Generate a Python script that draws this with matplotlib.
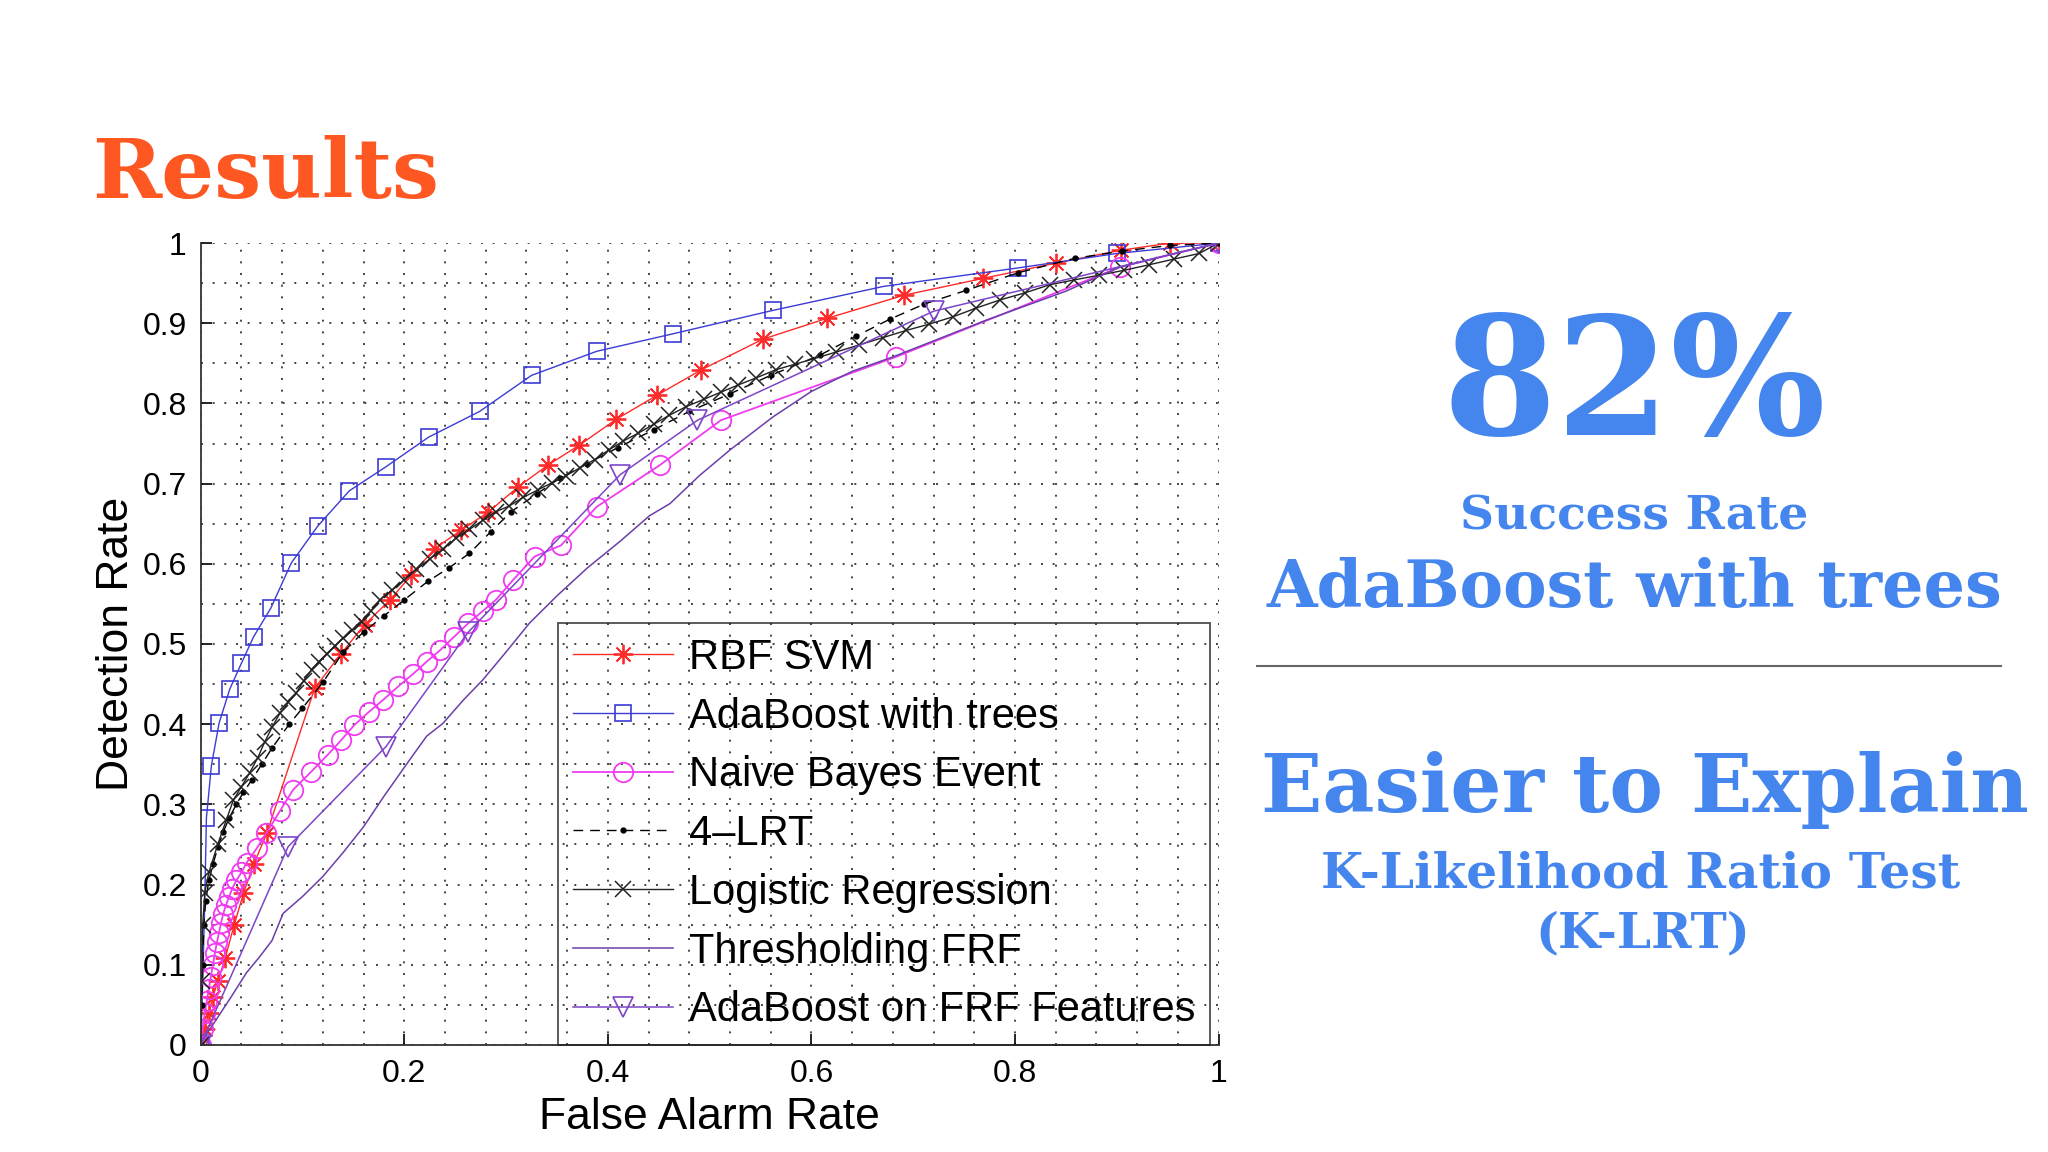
import matplotlib
matplotlib.use("Agg")
import matplotlib.pyplot as plt
from matplotlib.ticker import MultipleLocator, FuncFormatter
from matplotlib.lines import Line2D

# ROC curves
rbf_x = [0, 0.004, 0.008, 0.012, 0.017, 0.024, 0.033, 0.042, 0.052, 0.065,
         0.112, 0.138, 0.161, 0.186, 0.207, 0.230, 0.256, 0.282, 0.312, 0.341,
         0.372, 0.408, 0.448, 0.492, 0.552, 0.615, 0.691, 0.769, 0.840, 0.904,
         0.952, 1.0]
rbf_y = [0, 0.02, 0.04, 0.06, 0.08, 0.108, 0.15, 0.189, 0.225, 0.264,
         0.445, 0.488, 0.524, 0.555, 0.586, 0.619, 0.642, 0.664, 0.696, 0.723,
         0.748, 0.780, 0.810, 0.842, 0.880, 0.906, 0.935, 0.956, 0.975, 0.991,
         1.0, 1.0]

ada_x = [0, 0.002, 0.004, 0.0056, 0.0105, 0.018, 0.0285, 0.040, 0.052, 0.069,
         0.089, 0.115, 0.146, 0.182, 0.224, 0.274, 0.325, 0.389, 0.4645, 0.562,
         0.671, 0.803, 0.90, 1.0]
ada_y = [0, 0.08, 0.18, 0.283, 0.348, 0.401, 0.4435, 0.476, 0.509, 0.545,
         0.601, 0.647, 0.691, 0.721, 0.758, 0.790, 0.835, 0.865, 0.887, 0.916,
         0.946, 0.969, 0.987, 1.0]

nb_x = [0, 0.002, 0.004, 0.006, 0.008, 0.010, 0.012, 0.014, 0.016, 0.018,
        0.020, 0.022, 0.025, 0.028, 0.031, 0.035, 0.040, 0.045, 0.055, 0.0645,
        0.078, 0.0907, 0.108, 0.125, 0.138, 0.151, 0.165, 0.179, 0.194, 0.209,
        0.222, 0.235, 0.249, 0.263, 0.277, 0.290, 0.307, 0.328, 0.354, 0.389,
        0.451, 0.511, 0.683, 0.903, 1.0]
nb_y = [0, 0.02, 0.04, 0.055, 0.07, 0.085, 0.10, 0.115, 0.128, 0.14,
        0.152, 0.163, 0.175, 0.185, 0.195, 0.205, 0.215, 0.227, 0.245, 0.264,
        0.292, 0.318, 0.34, 0.362, 0.38, 0.399, 0.415, 0.430, 0.447, 0.463,
        0.478, 0.492, 0.509, 0.526, 0.541, 0.555, 0.580, 0.609, 0.623, 0.671,
        0.723, 0.779, 0.858, 0.970, 1.0]

lrt_x = [0, 0.001, 0.002, 0.003, 0.005, 0.008, 0.012, 0.017, 0.022, 0.028,
         0.035, 0.042, 0.05, 0.06, 0.07, 0.087, 0.10, 0.12, 0.14, 0.16,
         0.18, 0.20, 0.223, 0.244, 0.264, 0.285, 0.305, 0.33, 0.353, 0.38,
         0.41, 0.445, 0.48, 0.52, 0.56, 0.608, 0.644, 0.677, 0.711, 0.752,
         0.803, 0.859, 0.905, 0.952, 1.0]
lrt_y = [0, 0.05, 0.10, 0.15, 0.18, 0.205, 0.225, 0.247, 0.265, 0.283,
         0.30, 0.315, 0.33, 0.35, 0.37, 0.40, 0.42, 0.452, 0.49, 0.515,
         0.535, 0.555, 0.578, 0.595, 0.613, 0.64, 0.665, 0.687, 0.707, 0.725,
         0.745, 0.767, 0.79, 0.812, 0.835, 0.860, 0.884, 0.905, 0.924, 0.941,
         0.963, 0.981, 0.99, 0.997, 1.0]

lr_x = [0, 0.001, 0.002, 0.004, 0.008, 0.017, 0.025, 0.032, 0.040, 0.048,
        0.056, 0.063, 0.070, 0.078, 0.086, 0.094, 0.101, 0.109, 0.116, 0.124,
        0.132, 0.140, 0.149, 0.158, 0.167, 0.176, 0.188, 0.200, 0.212, 0.225,
        0.238, 0.251, 0.264, 0.277, 0.290, 0.303, 0.317, 0.331, 0.345, 0.359,
        0.373, 0.387, 0.401, 0.415, 0.430, 0.445, 0.46, 0.477, 0.494, 0.511,
        0.528, 0.546, 0.565, 0.584, 0.603, 0.624, 0.647, 0.67, 0.693, 0.716,
        0.739, 0.762, 0.785, 0.81, 0.834, 0.858, 0.883, 0.907, 0.932, 0.956,
        0.981, 1.0]
lr_y = [0, 0.08, 0.15, 0.19, 0.215, 0.251, 0.28, 0.305, 0.322, 0.339,
        0.358, 0.378, 0.396, 0.414, 0.427, 0.439, 0.454, 0.468, 0.478, 0.488,
        0.498, 0.507, 0.517, 0.528, 0.541, 0.555, 0.567, 0.580, 0.593, 0.606,
        0.618, 0.632, 0.643, 0.654, 0.665, 0.672, 0.683, 0.692, 0.701, 0.710,
        0.720, 0.730, 0.742, 0.753, 0.763, 0.774, 0.785, 0.796, 0.805, 0.814,
        0.823, 0.832, 0.842, 0.849, 0.856, 0.864, 0.873, 0.882, 0.891, 0.899,
        0.908, 0.919, 0.929, 0.938, 0.948, 0.954, 0.960, 0.966, 0.973, 0.980,
        0.987, 1.0]

thr_x = [0, 0.005, 0.015, 0.03, 0.045, 0.058, 0.07, 0.081, 0.10, 0.12,
         0.14, 0.16, 0.18, 0.205, 0.222, 0.238, 0.258, 0.277, 0.30, 0.323,
         0.35, 0.38, 0.412, 0.441, 0.461, 0.49, 0.520, 0.562, 0.60, 0.64,
         0.680, 0.772, 0.85, 0.903, 0.95, 1.0]
thr_y = [0, 0.012, 0.031, 0.06, 0.09, 0.11, 0.13, 0.164, 0.185, 0.21,
         0.24, 0.272, 0.31, 0.355, 0.385, 0.401, 0.43, 0.455, 0.49, 0.526,
         0.56, 0.595, 0.628, 0.66, 0.675, 0.71, 0.742, 0.783, 0.815, 0.84,
         0.858, 0.904, 0.94, 0.970, 0.985, 1.0]

frf_x = [0, 0.0858, 0.182, 0.263, 0.412, 0.488, 0.72, 1.0]
frf_y = [0, 0.247, 0.372, 0.515, 0.711, 0.779, 0.915, 1.0]

labels = ["RBF SVM", "AdaBoost with trees", "Naive Bayes Event", "4\u2013LRT",
          "Logistic Regression", "Thresholding FRF", "AdaBoost on FRF Features"]

BLUE = "#4585EE"
ORANGE = "#FF5722"
SANS = ["Liberation Sans", "DejaVu Sans"]
SLAB = "DejaVu Serif"

fig = plt.figure(figsize=(20.48, 11.52), dpi=100)
fig.patch.set_facecolor("white")
ax = fig.add_axes([0.098, 0.093, 0.497, 0.696])

ax.plot(rbf_x, rbf_y, color="#FF2A2A", lw=1.0, marker=(8, 2, 0), ms=14,
        mew=1.3, label=labels[0])
ax.plot(ada_x, ada_y, color="#3B3BD6", lw=1.0, marker="s", ms=12, mfc="none",
        mew=1.2, markevery=[0] + list(range(3, len(ada_x))), label=labels[1])
ax.plot(nb_x, nb_y, color="#F03CF0", lw=1.3, marker="o", ms=14, mfc="none",
        mew=1.3, label=labels[2])
ax.plot(lrt_x, lrt_y, color="black", lw=1.0, ls=(0, (7, 5)), marker=".",
        ms=7, label=labels[3])
ax.plot(lr_x, lr_y, color="#222222", lw=1.0, marker="x", ms=11, mew=1.1,
        label=labels[4])
ax.plot(thr_x, thr_y, color="#6B3FA8", lw=1.1, label=labels[5])
ax.plot(frf_x, frf_y, color="#7D45C8", lw=1.1, marker="v", ms=15, mfc="none",
        mew=1.2, label=labels[6])

ax.set_xlim(0, 1)
ax.set_ylim(0, 1)
ax.xaxis.set_major_locator(MultipleLocator(0.2))
ax.yaxis.set_major_locator(MultipleLocator(0.1))
ax.xaxis.set_minor_locator(MultipleLocator(0.04))
ax.yaxis.set_minor_locator(MultipleLocator(0.05))
fmt = FuncFormatter(lambda v, p: f"{v:g}")
ax.xaxis.set_major_formatter(fmt)
ax.yaxis.set_major_formatter(fmt)
ax.grid(which="both", ls=(0, (1, 5)), color="#444444", lw=1.4)
ax.tick_params(which="major", direction="in", length=8, width=1.2,
               labelsize=23, pad=10)
ax.tick_params(which="minor", length=0)
for t in ax.get_xticklabels() + ax.get_yticklabels():
    t.set_family(SANS)
for s in ["top", "right"]:
    ax.spines[s].set_visible(False)
for s in ["left", "bottom"]:
    ax.spines[s].set_linewidth(1.3)
    ax.spines[s].set_color("#333333")

ax.set_xlabel("False Alarm Rate", fontsize=32, family=SANS, labelpad=6)
ax.set_ylabel("Detection Rate", fontsize=32, family=SANS, labelpad=4)

leg = ax.legend(loc="lower right", bbox_to_anchor=(0.992, 0.0),
                borderaxespad=0, prop={"family": SANS, "size": 30},
                handlelength=2.4, handletextpad=0.4, labelspacing=0.45,
                borderpad=0.35, fancybox=False)
leg.get_frame().set_edgecolor("#222222")
leg.get_frame().set_linewidth(1.3)
leg.get_frame().set_facecolor("none")

# slide text
fig.text(0.045, 1 - 198 / 1152, "Results", color=ORANGE, family=SLAB,
         weight="bold", fontsize=60, va="baseline", ha="left")

cx = 0.798
fig.text(cx, 1 - 435 / 1152, "82%", color=BLUE, family=SLAB, weight="bold",
         fontsize=118, ha="center", va="baseline")
fig.text(cx, 1 - 529 / 1152, "Success Rate", color=BLUE, family=SLAB,
         weight="bold", fontsize=34, ha="center", va="baseline")
fig.text(cx, 1 - 607 / 1152, "AdaBoost with trees", color=BLUE, family=SLAB,
         weight="bold", fontsize=47, ha="center", va="baseline")
fig.add_artist(Line2D([0.614, 0.977], [1 - 666 / 1152, 1 - 666 / 1152],
                      transform=fig.transFigure, color="#666666", lw=1.5))
fig.text(0.803, 1 - 812 / 1152, "Easier to Explain", color=BLUE, family=SLAB,
         weight="bold", fontsize=58, ha="center", va="baseline")
fig.text(0.801, 1 - 887 / 1152, "K-Likelihood Ratio Test", color=BLUE,
         family=SLAB, weight="bold", fontsize=35, ha="center", va="baseline")
fig.text(0.802, 1 - 947 / 1152, "(K-LRT)", color=BLUE, family=SLAB,
         weight="bold", fontsize=35, ha="center", va="baseline")

fig.savefig("out.png", dpi=100, facecolor="white")
